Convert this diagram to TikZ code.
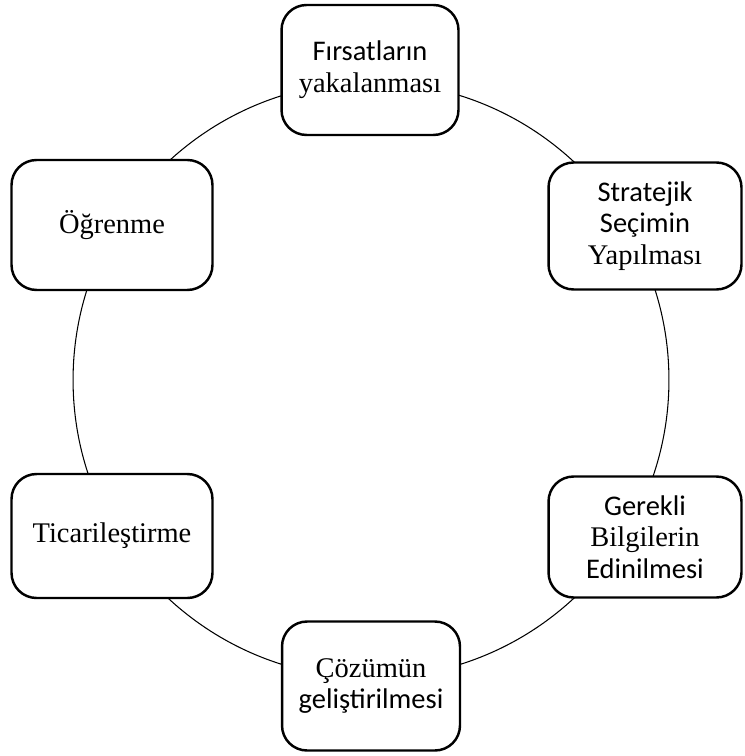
\documentclass[tikz,border=0pt]{standalone}
\usepackage{fontspec}
\setmainfont{Liberation Serif}
\newfontfamily\calfont{Carlito}
\usepackage{tikz}

\tikzset{
    box/.style={draw, line width=1.4pt, rounded corners=0.5cm, fill=white,
        align=center, inner sep=2pt, font=\fontsize{16.2}{18}\selectfont},
}

\begin{document}
\begin{tikzpicture}[x=0.02cm, y=-0.02cm]
    \useasboundingbox (0,0) rectangle (744,756);

    \coordinate (O) at (371,380); % centre of the cycle

    % the cycle itself, boxes are drawn on top of it
    \draw[line width=0.6pt] (O) circle[radius=5.96cm];

    % the six stages, clockwise from the top
    \node[box, minimum width=3.54cm, minimum height=2.6cm] (firsat) at (370,70)
        {{\calfont F\i rsatlar\i n}\\yakalanmas\i};
    \node[box, minimum width=3.86cm, minimum height=2.54cm] (secim) at (645,226)
        {{\calfont Stratejik}\\{\calfont Se\c{c}imin}\\Yap\i lmas\i};
    \node[box, minimum width=3.86cm, minimum height=2.42cm] (bilgi) at (645,537)
        {{\calfont Gerekli}\\Bilgilerin\\{\calfont Edinilmesi}};
    \node[box, minimum width=3.56cm, minimum height=2.58cm] (cozum) at (371,686)
        {\c{C}\"oz\"um\"un\\{\calfont geli\c{s}tirilmesi}};
    \node[box, minimum width=4.02cm, minimum height=2.48cm] (ticari) at (112,536)
        {Ticarile\c{s}tirme};
    \node[box, minimum width=4.02cm, minimum height=2.6cm] (ogren) at (112,225)
        {\"O\u{g}renme};
\end{tikzpicture}
\end{document}
